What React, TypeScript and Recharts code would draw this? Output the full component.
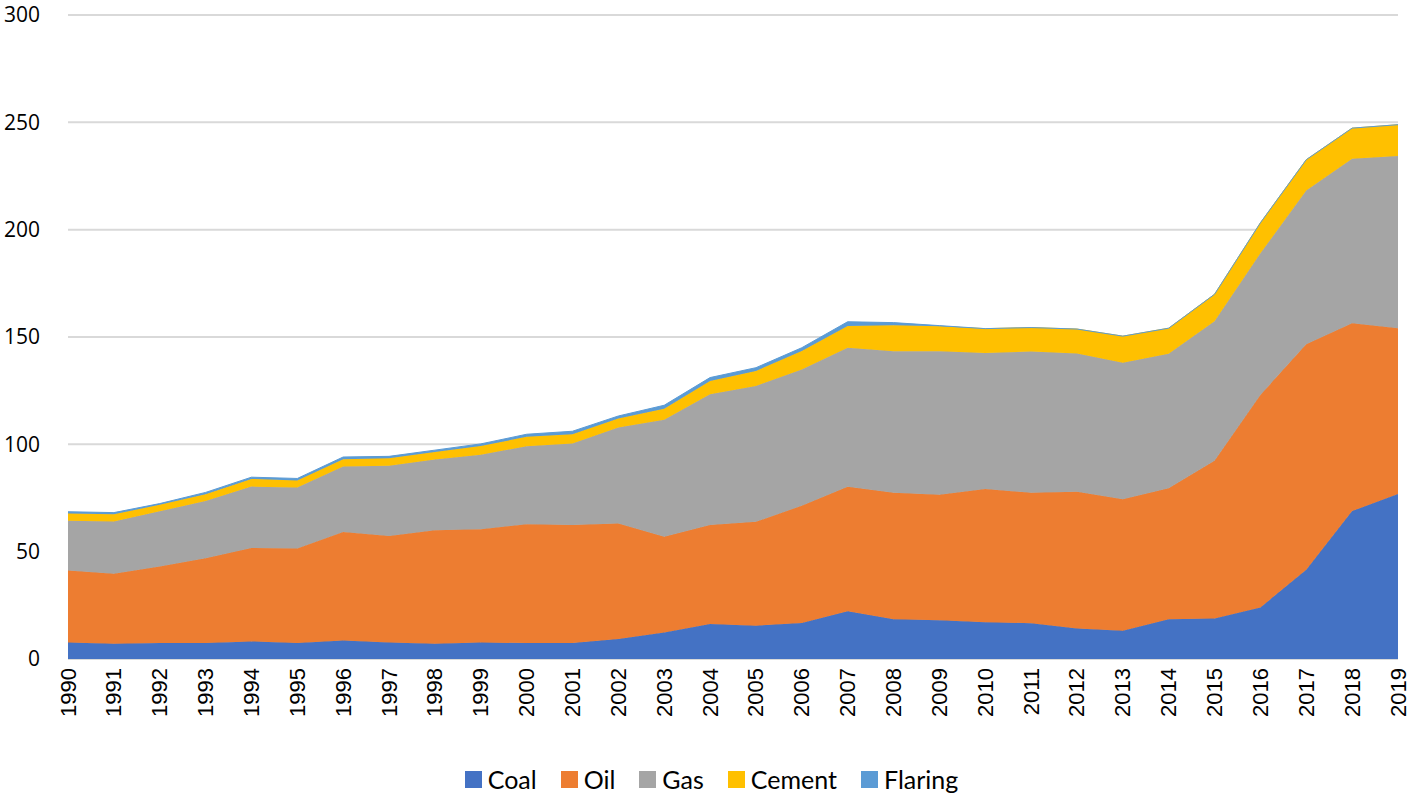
import React from 'react';
import { AreaChart, Area, XAxis, YAxis, CartesianGrid, Legend } from 'recharts';

const years = [
  1990, 1991, 1992, 1993, 1994, 1995, 1996, 1997, 1998, 1999,
  2000, 2001, 2002, 2003, 2004, 2005, 2006, 2007, 2008, 2009,
  2010, 2011, 2012, 2013, 2014, 2015, 2016, 2017, 2018, 2019
];
const coal = [
  7.7, 7.1, 7.5, 7.5, 8.2, 7.5, 8.6, 7.7, 7.1, 7.7,
  7.4, 7.4, 9.3, 12.4, 16.3, 15.5, 16.8, 22.2, 18.5, 18.1,
  17.1, 16.7, 14.2, 13.2, 18.5, 18.9, 24.0, 41.6, 68.9, 76.9
];
const oil = [
  33.5, 32.6, 35.6, 39.4, 43.5, 44.0, 50.6, 49.6, 52.9, 52.8,
  55.4, 55.0, 53.8, 44.5, 46.1, 48.4, 54.6, 58.0, 58.9, 58.4,
  62.1, 60.7, 63.7, 61.2, 61.0, 73.4, 99.0, 105.0, 87.5, 77.2
];
const gas = [
  23.2, 24.3, 25.7, 26.7, 28.6, 28.4, 30.5, 32.7, 32.9, 34.7,
  36.3, 38.0, 44.7, 54.6, 60.9, 63.3, 63.5, 64.8, 66.0, 66.9,
  63.3, 65.8, 64.4, 63.6, 62.7, 65.0, 66.0, 71.7, 76.6, 80.2
];
const cement = [
  3.4, 3.4, 3.0, 3.2, 3.6, 3.2, 3.4, 3.5, 3.5, 4.0,
  4.4, 4.3, 4.2, 5.1, 6.2, 7.0, 8.6, 10.1, 12.1, 11.6,
  11.4, 11.2, 11.4, 12.4, 11.9, 12.6, 14.2, 14.3, 14.3, 14.6
];
const flaring = [
  0.8, 0.8, 0.6, 0.8, 0.8, 1.0, 1.0, 0.9, 0.9, 1.0,
  1.2, 1.4, 1.2, 1.6, 1.6, 1.5, 1.5, 2.0, 1.2, 0.3,
  0, 0, 0, 0, 0, 0, 0, 0, 0, 0
];
const yTicks = [0, 50, 100, 150, 200, 250, 300];

const data = years.map((year, i) => ({
  year: String(year),
  Coal: coal[i],
  Oil: oil[i],
  Gas: gas[i],
  Cement: cement[i],
  Flaring: flaring[i]
}));

const series = [
  { key: 'Coal', color: '#4472C4' },
  { key: 'Oil', color: '#ED7D31' },
  { key: 'Gas', color: '#A5A5A5' },
  { key: 'Cement', color: '#FFC000' },
  { key: 'Flaring', color: '#5B9BD5' }
];

const XTick = ({ x, y, payload }: any) => (
  <text
    x={x}
    y={y}
    transform={`rotate(-90 ${x} ${y})`}
    textAnchor="end"
    dominantBaseline="central"
    fontFamily="Liberation Sans"
    fontSize={22}
    fill="#000"
  >
    {payload.value}
  </text>
);

const renderLegend = () => (
  <div
    style={{
      display: 'flex',
      justifyContent: 'center',
      gap: 24,
      fontFamily: 'Lato',
      fontSize: 25,
      color: '#000',
      paddingTop: 21,
      paddingLeft: 25
    }}
  >
    {series.map(s => (
      <span key={s.key} style={{ display: 'flex', alignItems: 'center' }}>
        <span
          style={{
            width: 17,
            height: 17,
            background: s.color,
            display: 'inline-block',
            marginRight: 6
          }}
        />
        {s.key}
      </span>
    ))}
  </div>
);

export default function App() {
  return (
    <div style={{ position: 'absolute', left: 0, top: 0, background: '#fff' }}>
      <AreaChart
        width={1417}
        height={798}
        data={data}
        margin={{ top: 15, right: 19, left: 0, bottom: 0 }}
      >
        <CartesianGrid vertical={false} stroke="#D9D9D9" strokeWidth={2} />
        <XAxis
          dataKey="year"
          interval={0}
          height={84}
          tickSize={0}
          tickMargin={9}
          axisLine={false}
          tick={<XTick />}
        />
        <YAxis
          domain={[0, 300]}
          ticks={yTicks}
          width={68}
          tickSize={0}
          tickMargin={28}
          axisLine={false}
          tick={{ fontFamily: 'Open Sans', fontSize: 21, fill: '#000' }}
        />
        <Legend verticalAlign="bottom" height={55} content={renderLegend} />
        {series.map(s => (
          <Area
            key={s.key}
            type="linear"
            dataKey={s.key}
            stackId="1"
            stroke={s.color}
            strokeWidth={1}
            fill={s.color}
            fillOpacity={1}
            isAnimationActive={false}
          />
        ))}
      </AreaChart>
    </div>
  );
}
